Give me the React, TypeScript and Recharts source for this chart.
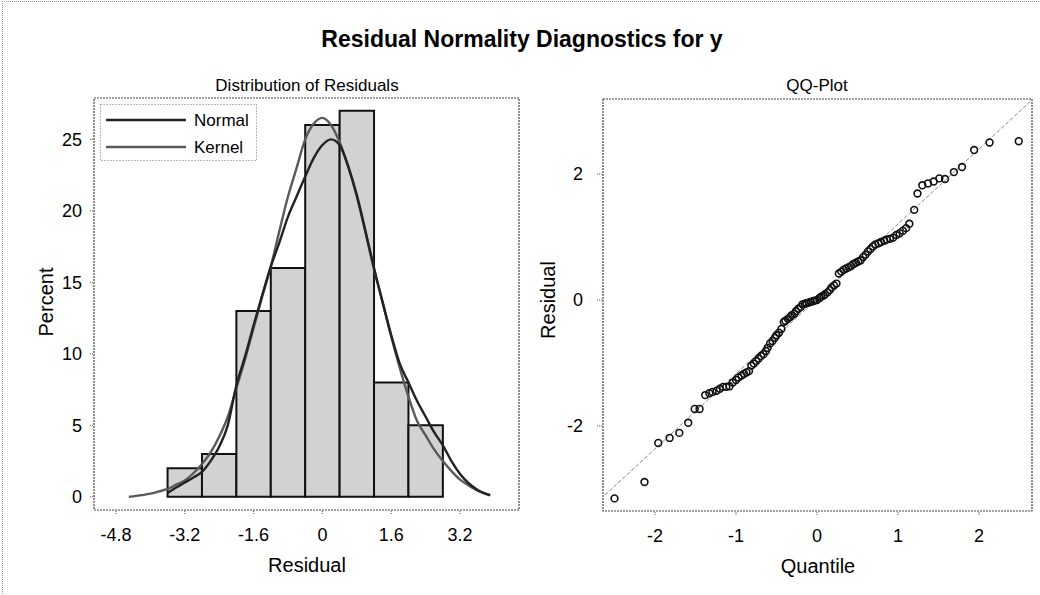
import React from 'react';
import {
  ComposedChart,
  XAxis,
  YAxis,
  Line,
  Scatter,
  ReferenceArea,
  ReferenceLine,
  Legend,
} from 'recharts';

const FONT = '"Liberation Sans", Arial, Helvetica, sans-serif';

// ---------- Histogram of residuals ----------
const binStart = [-3.6, -2.8, -2.0, -1.2, -0.4, 0.4, 1.2, 2.0];
const binEnd = [-2.8, -2.0, -1.2, -0.4, 0.4, 1.2, 2.0, 2.8];
const binPercent = [2, 3, 13, 16, 26, 27, 8, 5];

const histXTicks = [-4.8, -3.2, -1.6, 0, 1.6, 3.2];
const histYTicks = [0, 5, 10, 15, 20, 25];
const histXDomain = [-5.31, 4.57];
const histYDomain = [-0.92, 27.89];

const kernelX = [-4.5, -4.2, -4.0, -3.8, -3.6, -3.4, -3.2, -3.0, -2.8, -2.6, -2.4, -2.2, -2.0, -1.8, -1.6, -1.4, -1.2, -1.0, -0.8, -0.6, -0.4, -0.2, 0.0, 0.2, 0.4, 0.6, 0.8, 1.0, 1.2, 1.4, 1.6, 1.8, 2.0, 2.2, 2.4, 2.6, 2.8, 3.0, 3.2, 3.4, 3.6, 3.8, 3.9];
const kernelY = [0.0, 0.12, 0.22, 0.38, 0.55, 0.85, 1.15, 1.65, 2.3, 3.1, 4.2, 5.6, 7.6, 9.6, 11.8, 14.0, 16.1, 18.6, 21.0, 23.0, 25.0, 26.1, 26.5, 26.0, 24.8, 23.1, 21.0, 18.5, 15.9, 13.6, 11.2, 9.0, 7.0, 5.3, 4.3, 3.3, 2.5, 1.8, 1.2, 0.8, 0.45, 0.2, 0.1];

const normalX = [-3.6, -3.4, -3.2, -3.0, -2.8, -2.6, -2.4, -2.2, -2.0, -1.8, -1.6, -1.4, -1.2, -1.0, -0.8, -0.6, -0.4, -0.2, 0.0, 0.2, 0.4, 0.6, 0.8, 1.0, 1.2, 1.4, 1.6, 1.8, 2.0, 2.2, 2.4, 2.6, 2.8, 3.0, 3.2, 3.4, 3.6, 3.8, 3.9];
const normalY = [0.26, 0.65, 1.0, 1.35, 1.75, 2.5, 3.5, 5.0, 7.8, 9.8, 12.0, 14.1, 16.1, 17.8, 19.6, 21.0, 22.4, 23.7, 24.6, 25.0, 24.6, 23.1, 21.1, 18.6, 16.0, 13.6, 11.3, 9.3, 8.0, 6.7, 5.6, 4.5, 3.6, 2.5, 1.6, 0.95, 0.5, 0.2, 0.12];

// ---------- QQ plot ----------
const qqQuantile = [
  -2.50, -2.13, -1.96, -1.82, -1.70, -1.59, -1.51, -1.45, -1.38, -1.33,
  -1.29, -1.24, -1.20, -1.16, -1.12, -1.08, -1.04, -1.00, -0.97, -0.93,
  -0.90, -0.87, -0.84, -0.81, -0.78, -0.75, -0.72, -0.69, -0.66, -0.63,
  -0.61, -0.58, -0.55, -0.52, -0.50, -0.47, -0.44, -0.41, -0.39, -0.36,
  -0.33, -0.31, -0.28, -0.26, -0.23, -0.20, -0.18, -0.15, -0.13, -0.10,
  -0.08, -0.05, -0.03, 0.00, 0.03, 0.05, 0.08, 0.10, 0.13, 0.16,
  0.18, 0.21, 0.24, 0.27, 0.30, 0.33, 0.36, 0.39, 0.42, 0.45,
  0.48, 0.51, 0.54, 0.57, 0.60, 0.63, 0.66, 0.69, 0.72, 0.76,
  0.79, 0.83, 0.86, 0.90, 0.94, 0.98, 1.02, 1.06, 1.10, 1.14,
  1.20, 1.24, 1.30, 1.37, 1.44, 1.51, 1.58, 1.69, 1.79, 1.94,
  2.13, 2.49,
];
const qqResidual = [
  -3.15, -2.89, -2.27, -2.19, -2.11, -1.95, -1.73, -1.73, -1.51, -1.48,
  -1.46, -1.44, -1.41, -1.38, -1.38, -1.37, -1.31, -1.27, -1.23, -1.20,
  -1.17, -1.15, -1.13, -1.04, -1.01, -0.97, -0.93, -0.89, -0.86, -0.81,
  -0.76, -0.69, -0.65, -0.60, -0.56, -0.52, -0.46, -0.35, -0.33, -0.30,
  -0.27, -0.24, -0.22, -0.18, -0.14, -0.11, -0.07, -0.06, -0.05, -0.04,
  -0.03, -0.02, -0.01, 0.00, 0.03, 0.05, 0.07, 0.09, 0.12, 0.16,
  0.20, 0.23, 0.26, 0.42, 0.45, 0.48, 0.50, 0.52, 0.54, 0.57,
  0.59, 0.61, 0.63, 0.68, 0.72, 0.77, 0.81, 0.85, 0.88, 0.90,
  0.92, 0.94, 0.96, 0.97, 0.99, 1.03, 1.06, 1.10, 1.14, 1.21,
  1.43, 1.69, 1.82, 1.85, 1.88, 1.93, 1.92, 2.03, 2.11, 2.38,
  2.50, 2.52,
];
const qqLineX = [-2.62, 2.65];
const qqLineY = [-3.10, 3.17];
const qqXTicks = [-2, -1, 0, 1, 2];
const qqYTicks = [-2, 0, 2];
const qqXDomain = [-2.642, 2.654];
const qqYDomain = [-3.35, 3.19];

const kernelData = kernelX.map((x, i) => ({ x, y: kernelY[i] }));
const normalData = normalX.map((x, i) => ({ x, y: normalY[i] }));
const qqData = qqQuantile.map((x, i) => ({ x, y: qqResidual[i] }));

const legendItems = [
  { name: 'Normal', color: '#222' },
  { name: 'Kernel', color: '#5a5a5a' },
];

const tickStyle = { fontSize: 18, fill: '#000', fontFamily: FONT };
const tickLineStyle = { stroke: '#555', strokeDasharray: '1 1' };

const textAbs = (
  x: number,
  y: number,
  size: number,
  extra: React.CSSProperties = {}
): React.CSSProperties => ({
  position: 'absolute',
  left: x,
  top: y,
  transform: 'translate(-50%, -50%)',
  fontSize: size,
  lineHeight: 1,
  whiteSpace: 'nowrap',
  color: '#000',
  fontFamily: FONT,
  ...extra,
});

const QQPoint = (props: any) => {
  const { cx, cy } = props;
  if (cx == null || cy == null) return null;
  return <circle cx={cx} cy={cy} r={3.4} fill="#fff" fillOpacity={0} stroke="#111" strokeWidth={1.6} />;
};

const LegendBox = () => (
  <svg width={157} height={57} style={{ display: 'block' }}>
    <rect x={0.5} y={0.5} width={156} height={56} fill="#fff" stroke="#777" strokeDasharray="1 2" />
    {legendItems.map((it, i) => (
      <g key={it.name}>
        <line x1={6} x2={86} y1={16 + i * 27} y2={16 + i * 27} stroke={it.color} strokeWidth={2.4} />
        <text x={94} y={16 + i * 27} dy="0.35em" fontSize={17} fontFamily={FONT} fill="#000">
          {it.name}
        </text>
      </g>
    ))}
  </svg>
);

export default function App() {
  return (
    <div
      style={{
        position: 'absolute',
        left: 0,
        top: 0,
        width: 1040,
        height: 595,
        background: '#fff',
        overflow: 'hidden',
        fontFamily: FONT,
      }}
    >
      <div
        style={{
          position: 'absolute',
          left: 2,
          top: 1,
          width: 1038,
          height: 594,
          borderTop: '1px dotted #999',
          borderLeft: '1px dotted #999',
        }}
      />
      <div style={textAbs(522, 39, 23, { fontWeight: 'bold' })}>Residual Normality Diagnostics for y</div>
      <div style={textAbs(307, 85, 17)}>Distribution of Residuals</div>
      <div style={textAbs(817, 85, 17)}>QQ-Plot</div>
      <div style={textAbs(46, 302, 20, { transform: 'translate(-50%, -50%) rotate(-90deg)' })}>Percent</div>
      <div style={textAbs(307, 565, 20)}>Residual</div>
      <div style={textAbs(548, 300, 20, { transform: 'translate(-50%, -50%) rotate(-90deg)' })}>Residual</div>
      <div style={textAbs(818, 566, 20)}>Quantile</div>

      <div style={{ position: 'absolute', left: 0, top: 0 }}>
        <ComposedChart width={520} height={595} margin={{ top: 98, right: 1, bottom: 25, left: 34 }}>
          <XAxis
            type="number"
            dataKey="x"
            domain={histXDomain}
            ticks={histXTicks}
            interval={0}
            allowDataOverflow
            height={60}
            tickSize={4}
            tickMargin={14}
            axisLine={false}
            tickLine={tickLineStyle}
            tick={tickStyle}
          />
          <YAxis
            type="number"
            dataKey="y"
            domain={histYDomain}
            ticks={histYTicks}
            interval={0}
            allowDataOverflow
            width={60}
            tickSize={4}
            tickMargin={8}
            axisLine={false}
            tickLine={tickLineStyle}
            tick={tickStyle}
          />
          <ReferenceArea
            x1={histXDomain[0]}
            x2={histXDomain[1]}
            y1={histYDomain[0]}
            y2={histYDomain[1]}
            fill="#fff"
            fillOpacity={0}
            stroke="#444"
            strokeWidth={1.2}
            strokeDasharray="2 1"
            ifOverflow="visible"
          />
          {binPercent.map((p, i) => (
            <ReferenceArea
              key={i}
              x1={binStart[i]}
              x2={binEnd[i]}
              y1={0}
              y2={p}
              fill="#d2d2d2"
              fillOpacity={1}
              stroke="#111"
              strokeWidth={2}
              ifOverflow="visible"
            />
          ))}
          <Line
            data={kernelData}
            dataKey="y"
            name="Kernel"
            type="monotone"
            stroke="#5a5a5a"
            strokeWidth={2.4}
            dot={false}
            activeDot={false}
            isAnimationActive={false}
          />
          <Line
            data={normalData}
            dataKey="y"
            name="Normal"
            type="monotone"
            stroke="#222"
            strokeWidth={2.4}
            dot={false}
            activeDot={false}
            isAnimationActive={false}
          />
          <Legend
            layout="horizontal"
            verticalAlign="middle"
            align="center"
            wrapperStyle={{ left: 100, top: 104, width: 157, height: 57 }}
            content={() => <LegendBox />}
          />
        </ComposedChart>
      </div>

      <div style={{ position: 'absolute', left: 520, top: 0 }}>
        <ComposedChart width={520} height={595} margin={{ top: 99, right: 8, bottom: 24, left: 23 }}>
          <XAxis
            type="number"
            dataKey="x"
            domain={qqXDomain}
            ticks={qqXTicks}
            interval={0}
            allowDataOverflow
            height={60}
            tickSize={4}
            tickMargin={14}
            axisLine={false}
            tickLine={tickLineStyle}
            tick={tickStyle}
          />
          <YAxis
            type="number"
            dataKey="y"
            domain={qqYDomain}
            ticks={qqYTicks}
            interval={0}
            allowDataOverflow
            width={60}
            tickSize={6}
            tickMargin={14}
            axisLine={false}
            tickLine={tickLineStyle}
            tick={tickStyle}
          />
          <ReferenceArea
            x1={qqXDomain[0]}
            x2={qqXDomain[1]}
            y1={qqYDomain[0]}
            y2={qqYDomain[1]}
            fill="#fff"
            fillOpacity={0}
            stroke="#444"
            strokeWidth={1.2}
            strokeDasharray="2 1"
            ifOverflow="visible"
          />
          <ReferenceLine
            segment={[
              { x: qqLineX[0], y: qqLineY[0] },
              { x: qqLineX[1], y: qqLineY[1] },
            ]}
            stroke="#888"
            strokeWidth={1}
            strokeDasharray="4 2"
            ifOverflow="visible"
          />
          <Scatter data={qqData} dataKey="y" shape={QQPoint} isAnimationActive={false} />
        </ComposedChart>
      </div>
    </div>
  );
}
